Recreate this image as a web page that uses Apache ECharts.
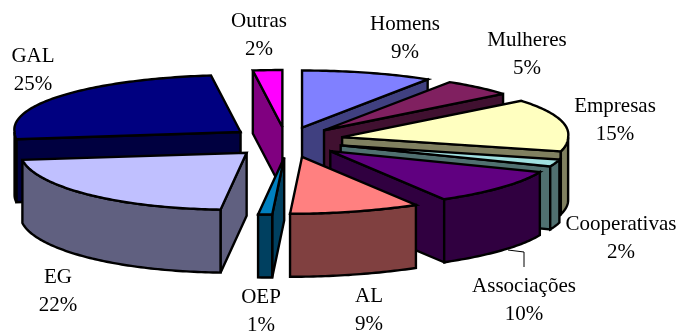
<!DOCTYPE html>
<html><head><meta charset="utf-8">
<style>html,body{margin:0;padding:0;background:#fff}#c{width:679px;height:333px}</style>
<script src="https://cdn.jsdelivr.net/npm/echarts@6/dist/echarts.min.js"></script>
</head><body><div id="c"></div>
<script>
const categories = ['Homens','Mulheres','Empresas','Cooperativas','Associações','AL','OEP','EG','GAL','Outras'];
const shares = [9,5,15,2,10,9,1,22,25,2];
const drawOrder = ['Outras','Homens','Mulheres','Empresas','Cooperativas','Associações','GAL','EG','AL','OEP'];
const topColors = ['#8080FF','#802060','#FFFFC0','#A0E0E0','#600080','#FF8080','#0080C0','#C0C0FF','#000080','#FF00FF'];
const wallColors = ['#404080','#401030','#808060','#507070','#300040','#804040','#004060','#606080','#000040','#800080'];
const labelCentres = [[405,24],[527,40],[615,106],[621,224],[524,286],[369,296],[261,297],[58,277],[33,56],[259,21]];
const leaderLine = {category:'Associações', points:[[508,250],[524,252],[524,267]]};

const total = shares.reduce((a,b)=>a+b,0);
const starts = []; { let s=0; shares.forEach(v=>{starts.push(s); s+=v;}); }
const G = {cx:286, cy:140, ex:57.5, eyBack:13, eyFront:17.5, depth:63, R:226, Rback:10, Ry:57, shear:12, lh:28, font:'21px "Liberation Serif"'};
const rad = d => d*Math.PI/180;

function apex(mid){
  const c=Math.cos(rad(mid));
  return [G.cx+G.ex*Math.sin(rad(mid)), G.cy+(c>0?-G.eyBack*c:-G.eyFront*c)];
}
function rim(A,t){
  const s=Math.sin(rad(t)), yf=-Math.cos(rad(t));
  const r=G.R+G.Rback*Math.max(0,-yf);
  const sh=yf>0?-G.shear*yf*yf*yf:0;
  return [A[0]+r*s+sh, A[1]+G.Ry*yf];
}
const down = p => [p[0],p[1]+G.depth];
const strokeStyle = fill => ({fill, stroke:'#000', lineWidth:2.4, lineJoin:'miter', miterLimit:4});
function poly(points,fill){ return {type:'polygon',shape:{points},style:strokeStyle(fill)}; }
function wallVisible(A,P,M){
  if(Math.abs(P[0]-A[0])<0.01) return false;
  const ly=A[1]+(M[0]-A[0])*(P[1]-A[1])/(P[0]-A[0]);
  return M[1]<ly;
}
function renderItem(params,api){
  const i=api.value(0), v=api.value(1);
  const a0=starts[i]/total*360, a1=a0+v/total*360, mid=(a0+a1)/2;
  const A=apex(mid), P0=rim(A,a0), P1=rim(A,a1), M=rim(A,mid);
  const arc=[]; const n=Math.max(4,Math.ceil(a1-a0));
  for(let k=0;k<=n;k++) arc.push(rim(A,a0+(a1-a0)*k/n));
  const kids=[];
  [P0,P1].forEach(P=>{
    if(wallVisible(A,P,M)) kids.push(poly([A,P,down(P),down(A)],wallColors[i]));
  });
  const w0=Math.max(a0,90), w1=Math.min(a1,270);
  if(w1>w0){
    const top=[]; const m=Math.max(2,Math.ceil(w1-w0));
    for(let k=0;k<=m;k++) top.push(rim(A,w0+(w1-w0)*k/m));
    kids.push(poly(top.concat(top.slice().reverse().map(down)),wallColors[i]));
  }
  kids.push(poly([A].concat(arc),topColors[i]));
  const name=categories[i], L=labelCentres[i];
  if(name===leaderLine.category){
    kids.push({type:'polyline',shape:{points:leaderLine.points},style:{stroke:'#000',lineWidth:1,fill:null}});
  }
  [name, v+'%'].forEach((t,k)=>kids.push({type:'text',style:{text:t,x:L[0],y:L[1]+k*G.lh,textAlign:'center',textVerticalAlign:'middle',font:G.font,fill:'#000'}}));
  return {type:'group',children:kids};
}
const chart=echarts.init(document.getElementById('c'),null,{renderer:'canvas'});
chart.setOption({
  animation:false,backgroundColor:'#fff',
  series:[{type:'custom',coordinateSystem:'none',silent:true,renderItem,
    data:drawOrder.map(n=>{const i=categories.indexOf(n);return [i,shares[i]];})}]
});
</script></body></html>
